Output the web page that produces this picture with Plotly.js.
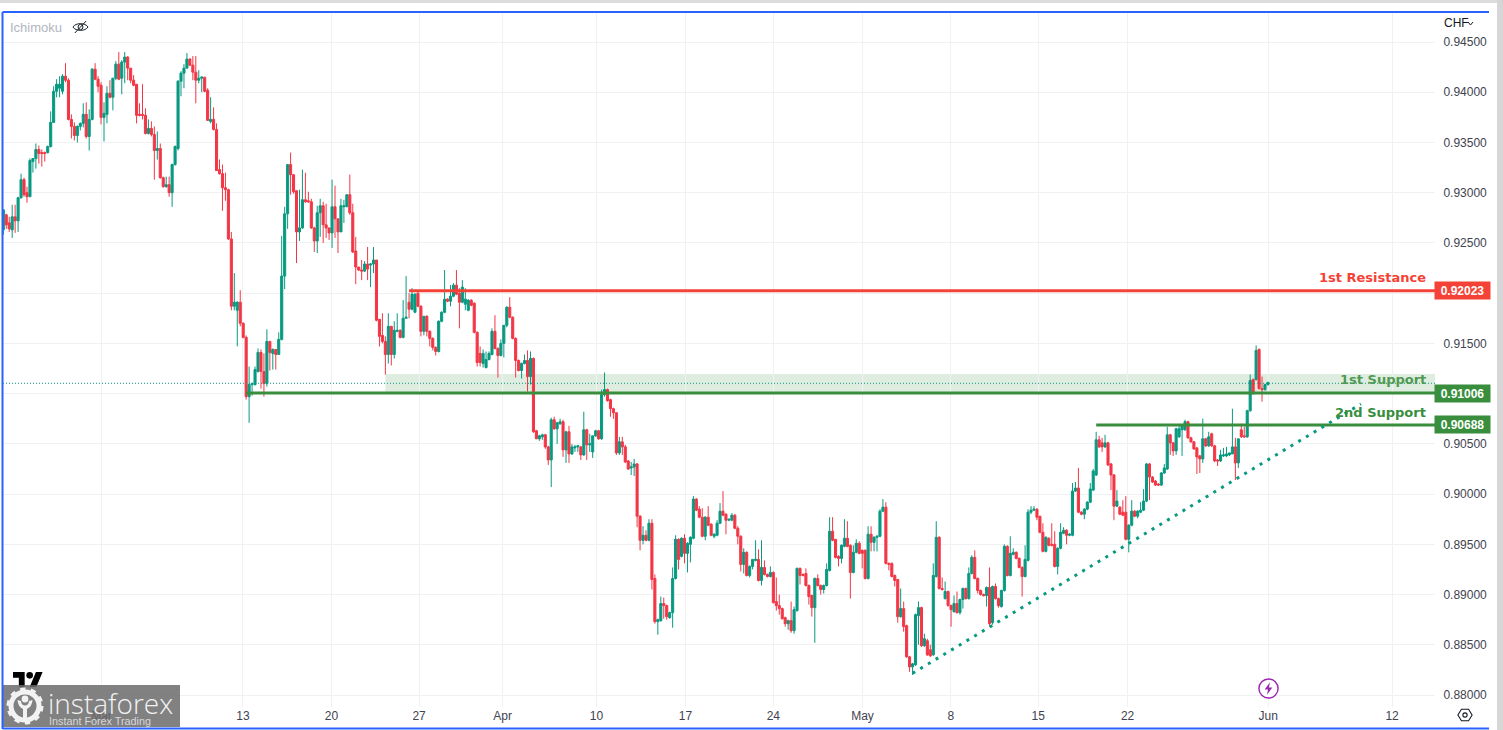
<!DOCTYPE html>
<html><head><meta charset="utf-8">
<script src="https://cdn.plot.ly/plotly-3.0.1.min.js"></script>
<style>html,body{margin:0;padding:0;background:#fff;overflow:hidden}#chart{width:1503px;height:730px}</style>
</head><body><div id="chart"></div>
<script>
// USD/CHF 4-hour candles, prices in units of 0.0001 CHF.
const opens=[
9263,9278,9270,9263,9276,9272,9295,9313,9300,9296,
9331,9334,9343,9340,9340,9340,9346,9370,9401,9404,
9401,9416,9412,9373,9366,9357,9366,9369,9378,9356,
9373,9423,9413,9407,9375,9378,9399,9395,9414,9428,
9414,9430,9435,9424,9412,9408,9378,9378,9377,9359,
9364,9358,9342,9344,9315,9306,9308,9300,9328,9344,
9411,9419,9424,9433,9427,9420,9412,9414,9415,9402,
9371,9373,9363,9323,9319,9305,9303,9254,9187,9183,
9191,9170,9156,9097,9109,9109,9122,9141,9122,9110,
9152,9140,9144,9139,9154,9217,9279,9328,9318,9302,
9261,9265,9293,9292,9291,9265,9252,9280,9287,9268,
9265,9260,9286,9274,9261,9286,9286,9298,9280,9242,
9226,9223,9222,9229,9228,9229,9233,9174,9158,9152,
9139,9167,9139,9162,9163,9156,9175,9191,9184,9181,
9200,9187,9162,9177,9162,9155,9146,9142,9172,9181,
9194,9192,9197,9208,9200,9191,9189,9183,9193,9190,
9161,9140,9130,9126,9134,9139,9162,9145,9138,9150,
9168,9186,9176,9155,9133,9123,9130,9133,9117,9135,
9063,9055,9057,9059,9047,9034,9074,9065,9070,9072,
9044,9062,9040,9046,9047,9047,9039,9064,9049,9042,
9058,9063,9055,9099,9104,9094,9085,9081,9041,9052,
9047,9033,9026,9027,9030,8978,8954,8959,8954,8971,
8916,8873,8874,8891,8889,8877,8882,8916,8955,8938,
8956,8941,8950,8956,8995,8985,8977,8958,8977,8970,
8958,8959,8971,8983,8980,8974,8974,8979,8966,8958,
8930,8942,8919,8928,8934,8935,8914,8927,8920,8918,
8922,8893,8889,8886,8877,8871,8874,8864,8884,8926,
8920,8921,8909,8899,8887,8916,8909,8905,8909,8924,
8963,8955,8938,8936,8948,8956,8949,8922,8942,8951,
8944,8944,8916,8960,8952,8957,8958,8983,8987,8931,
8931,8919,8915,8878,8886,8869,8838,8828,8830,8879,
8887,8849,8854,8845,8840,8918,8957,8906,8896,8903,
8889,8883,8891,8882,8895,8906,8896,8921,8937,8916,
8904,8900,8899,8907,8872,8908,8896,8888,8904,8948,
8919,8940,8942,8936,8927,8918,8934,8982,8984,8985,
8978,8962,8943,8956,8950,8950,8928,8946,8961,8964,
8959,8959,9003,9006,8982,8980,8985,8992,9004,9019,
9054,9051,9047,9051,9030,9019,8988,8987,8982,8982,
8955,8969,8983,8978,8982,8984,8993,9030,9017,9013,
9010,9009,9021,9025,9059,9051,9043,9057,9064,9064,
9072,9056,9052,9046,9038,9035,9055,9048,9060,9048,
9034,9033,9038,9038,9039,9040,9047,9031,9064,9058,
9057,9083,9114,9114,9144,9105,9104,9109];
const highs=[
9283,9279,9276,9288,9288,9296,9319,9315,9306,9334,
9334,9349,9347,9343,9341,9347,9381,9406,9413,9416,
9418,9429,9414,9378,9370,9367,9370,9389,9390,9383,
9424,9429,9416,9410,9390,9406,9412,9414,9431,9440,
9432,9440,9436,9424,9417,9408,9389,9408,9384,9373,
9371,9366,9361,9349,9316,9316,9316,9329,9347,9412,
9421,9428,9439,9434,9436,9436,9422,9416,9415,9404,
9395,9385,9369,9333,9328,9320,9304,9261,9220,9192,
9203,9171,9158,9127,9111,9127,9145,9144,9140,9164,
9152,9145,9144,9161,9257,9286,9328,9340,9318,9302,
9303,9323,9320,9301,9294,9266,9287,9294,9291,9289,
9265,9313,9307,9274,9294,9293,9298,9318,9289,9256,
9226,9233,9232,9246,9230,9246,9233,9174,9180,9157,
9180,9167,9172,9180,9164,9193,9217,9200,9205,9200,
9201,9188,9177,9178,9163,9156,9147,9173,9182,9223,
9195,9208,9210,9223,9205,9213,9205,9194,9194,9191,
9162,9147,9144,9142,9142,9165,9178,9146,9154,9168,
9187,9196,9177,9156,9134,9131,9139,9143,9142,9136,
9064,9059,9060,9060,9048,9076,9077,9072,9075,9074,
9063,9068,9050,9049,9049,9048,9082,9065,9060,9058,
9064,9064,9104,9121,9105,9095,9086,9081,9057,9057,
9049,9034,9032,9035,9031,8979,8968,8964,8975,8975,
8920,8876,8898,8897,8890,8883,8927,8959,8956,8957,
8960,8952,8958,8998,8996,8988,8986,8978,8988,8971,
8961,8974,8991,9003,8981,8975,8981,8980,8968,8959,
8946,8943,8929,8935,8954,8945,8954,8934,8921,8928,
8923,8917,8900,8887,8878,8875,8893,8888,8927,8927,
8921,8926,8910,8900,8917,8920,8910,8910,8931,8977,
8977,8955,8939,8950,8975,8973,8950,8949,8955,8953,
8945,8945,8968,8968,8958,8959,8985,8995,8992,8932,
8932,8920,8915,8906,8893,8870,8839,8832,8881,8893,
8888,8861,8856,8850,8931,8973,8958,8917,8913,8904,
8890,8899,8903,8896,8907,8907,8927,8939,8944,8917,
8905,8901,8908,8927,8909,8911,8897,8905,8950,8949,
8958,8946,8943,8937,8928,8949,8985,8988,8988,8986,
8978,8971,8958,8957,8971,8963,8947,8971,8967,8965,
8961,9011,9012,9026,8983,8986,8993,9011,9025,9062,
9058,9056,9059,9052,9031,9020,9004,8988,8994,8998,
8970,8994,8984,8984,8992,9005,9031,9031,9018,9014,
9011,9022,9030,9067,9060,9052,9066,9069,9070,9074,
9073,9057,9053,9047,9039,9075,9056,9062,9061,9049,
9035,9044,9046,9047,9041,9085,9056,9055,9070,9067,
9084,9119,9115,9148,9145,9117,9110,9112];
const lows=[
9258,9264,9261,9255,9260,9261,9294,9296,9290,9296,
9320,9324,9329,9326,9331,9339,9345,9370,9395,9395,
9398,9410,9372,9354,9352,9350,9362,9365,9354,9342,
9372,9412,9400,9368,9351,9369,9394,9382,9412,9412,
9398,9409,9412,9409,9406,9369,9376,9373,9358,9358,
9356,9313,9333,9314,9305,9305,9296,9286,9327,9342,
9396,9404,9424,9426,9412,9389,9409,9400,9400,9372,
9369,9362,9322,9318,9282,9292,9253,9183,9183,9147,
9167,9155,9094,9071,9098,9108,9121,9105,9097,9107,
9123,9124,9124,9139,9153,9204,9264,9298,9299,9230,
9252,9264,9290,9290,9264,9241,9240,9256,9250,9255,
9253,9245,9255,9240,9261,9270,9286,9278,9240,9209,
9222,9213,9221,9213,9206,9220,9172,9147,9150,9119,
9130,9128,9135,9161,9155,9155,9175,9175,9183,9180,
9186,9157,9158,9157,9147,9143,9138,9141,9171,9180,
9191,9187,9196,9198,9165,9190,9183,9182,9187,9160,
9127,9127,9126,9125,9133,9138,9144,9116,9137,9136,
9166,9175,9154,9116,9122,9115,9129,9102,9109,9061,
9055,9053,9054,9045,9029,9007,9064,9050,9069,9037,
9031,9031,9039,9042,9042,9034,9038,9034,9042,9036,
9057,9054,9054,9097,9092,9077,9075,9039,9039,9039,
9031,9024,9019,9018,8967,8944,8950,8953,8953,8905,
8871,8860,8873,8876,8875,8876,8867,8915,8925,8937,
8931,8922,8932,8955,8983,8976,8957,8954,8968,8958,
8956,8958,8970,8978,8960,8973,8973,8965,8950,8923,
8921,8918,8917,8925,8933,8913,8909,8919,8917,8917,
8891,8884,8880,8875,8868,8865,8862,8861,8883,8910,
8918,8908,8890,8878,8852,8908,8900,8901,8908,8923,
8953,8936,8928,8931,8947,8947,8896,8921,8941,8940,
8926,8915,8915,8943,8943,8943,8957,8982,8930,8924,
8917,8908,8872,8877,8863,8837,8823,8820,8829,8850,
8848,8848,8839,8838,8839,8917,8905,8904,8895,8888,
8868,8882,8881,8880,8886,8895,8895,8920,8915,8901,
8899,8898,8888,8868,8870,8895,8887,8887,8903,8918,
8918,8939,8935,8926,8898,8917,8933,8980,8983,8974,
8961,8942,8942,8948,8948,8927,8920,8945,8960,8950,
8958,8958,9002,8981,8979,8975,8984,8991,9003,9018,
9046,9042,9046,9028,9004,8974,8987,8979,8978,8954,
8942,8968,8977,8976,8981,8983,8992,8994,9011,9008,
9008,9008,9020,9024,9039,9038,9039,9056,9038,9063,
9055,9051,9044,9020,9021,9031,9047,9047,9047,9032,
9028,9032,9037,9037,9038,9040,9014,9026,9056,9056,
9056,9082,9099,9113,9104,9092,9103,9108];
const closes=[
9283,9268,9264,9276,9272,9295,9313,9298,9296,9332,
9334,9343,9339,9339,9339,9346,9370,9401,9408,9408,
9416,9412,9373,9366,9357,9366,9369,9378,9356,9373,
9423,9413,9406,9375,9379,9399,9395,9414,9428,9413,
9430,9435,9424,9412,9407,9377,9377,9377,9359,9364,
9358,9342,9344,9315,9306,9308,9300,9328,9346,9411,
9419,9424,9433,9427,9420,9412,9414,9415,9401,9372,
9373,9363,9322,9319,9305,9303,9254,9187,9191,9191,
9170,9156,9097,9109,9110,9124,9141,9122,9110,9152,
9141,9144,9139,9154,9217,9279,9328,9318,9301,9261,
9265,9293,9291,9291,9265,9252,9280,9287,9268,9265,
9260,9286,9274,9261,9287,9287,9298,9280,9241,9226,
9223,9222,9229,9224,9229,9233,9173,9157,9152,9139,
9167,9139,9163,9163,9156,9175,9176,9184,9199,9199,
9187,9162,9177,9162,9155,9146,9142,9172,9181,9194,
9192,9197,9208,9199,9191,9206,9194,9193,9188,9161,
9131,9131,9140,9134,9140,9162,9145,9138,9150,9168,
9186,9176,9155,9133,9123,9130,9133,9117,9135,9062,
9055,9058,9059,9047,9034,9074,9065,9071,9072,9044,
9062,9040,9047,9047,9048,9039,9064,9049,9050,9058,
9063,9055,9099,9104,9093,9085,9081,9041,9052,9047,
9032,9025,9027,9030,8978,8954,8959,8954,8971,8915,
8873,8875,8891,8889,8878,8882,8916,8955,8935,8956,
8941,8951,8957,8995,8984,8977,8958,8977,8969,8959,
8960,8971,8983,8979,8974,8975,8979,8966,8958,8930,
8942,8919,8928,8935,8935,8914,8927,8920,8918,8922,
8892,8889,8886,8876,8871,8874,8864,8885,8926,8919,
8919,8909,8898,8887,8916,8909,8905,8909,8925,8963,
8954,8937,8936,8949,8956,8948,8922,8942,8951,8941,
8941,8916,8960,8952,8957,8958,8983,8987,8931,8930,
8918,8914,8878,8886,8868,8838,8828,8831,8880,8887,
8849,8856,8840,8839,8919,8957,8906,8905,8903,8889,
8885,8891,8882,8895,8906,8896,8921,8937,8916,8904,
8900,8899,8907,8871,8908,8896,8889,8904,8948,8919,
8941,8942,8936,8927,8918,8935,8982,8984,8985,8977,
8962,8943,8957,8949,8949,8928,8946,8962,8964,8959,
8960,9003,9006,8982,8980,8985,8992,9005,9023,9054,
9047,9047,9051,9029,9019,8988,8993,8980,8979,8955,
8969,8983,8978,8983,8984,8993,9030,9017,9012,9009,
9009,9021,9026,9059,9051,9043,9065,9065,9069,9072,
9056,9052,9045,9037,9035,9055,9048,9057,9048,9033,
9033,9039,9039,9040,9041,9047,9031,9055,9057,9057,
9083,9113,9100,9143,9105,9104,9109,9111];

const timeTickLabels=['Mar','13','20','27','Apr','10','17','24','May','8','15','22','Jun','12'];
const timeTickIndex=[33.15,80.9,110.8,140.4,168.6,200.3,230.3,260,290.1,319.9,349.4,379.6,427.1,468.9];
const priceTicks=[0.88,0.885,0.89,0.895,0.90,0.905,0.91,0.915,0.92,0.925,0.93,0.935,0.94,0.945];

const resistance1=0.92023, support1=0.91006, support2=0.90688;
const zoneTop=0.91195, lastPrice=0.91103;
const res1Start=137, sup1Start=82, sup2Start=369, zoneStart=129;
const trendStart=[307,0.88216], trendEnd=[458.4,0.90897];

const GREEN='#089981', RED='#F23645', LEVEL_GREEN='#388E3C', LEVEL_RED='#F44336', BLUE='#2962FF';
const xRange=[-0.1,483.4], yRange=[0.878806,0.94789];
const PL=3,PW=1432,PT=13,PH=694;
const px=x=>(x-PL)/PW, py=y=>1-(y-PT)/PH;
const idx=opens.map((_,i)=>i), sc=a=>a.map(v=>v/1e4);

const pRect=(x0,y0,x1,y1,fill)=>({type:'rect',xref:'paper',yref:'paper',x0:px(x0),x1:px(x1),y0:py(y0),y1:py(y1),fillcolor:fill,line:{width:0},layer:'above'});
const pLine=(x0,y0,x1,y1,color,w)=>({type:'line',xref:'paper',yref:'paper',x0:px(x0),x1:px(x1),y0:py(y0),y1:py(y1),line:{color:color,width:w},layer:'above'});
const hLine=(x0,y,color)=>({type:'line',xref:'x',yref:'y',x0:x0,x1:xRange[1],y0:y,y1:y,line:{color:color,width:3},layer:'above'});

const shapes=[
 {type:'rect',xref:'x',yref:'y',x0:zoneStart,x1:xRange[1],y0:support1,y1:zoneTop,fillcolor:'rgba(56,142,60,0.16)',line:{width:0},layer:'below'},
 {type:'line',xref:'x',yref:'y',x0:xRange[0],x1:xRange[1],y0:lastPrice,y1:lastPrice,line:{color:GREEN,width:1,dash:'1px,2px'},layer:'above'},
 hLine(res1Start,resistance1,LEVEL_RED),
 hLine(sup1Start,support1,LEVEL_GREEN),
 hLine(sup2Start,support2,LEVEL_GREEN),
 {type:'line',xref:'x',yref:'y',x0:trendStart[0],y0:trendStart[1],x1:trendEnd[0],y1:trendEnd[1],line:{color:GREEN,width:3,dash:'3px,6px'},layer:'above'},
 pRect(0,0,1503,3,'#dcdcdc'),
 pRect(1497,0,1503,730,'#d6d6d6'),
 pLine(2.5,12,1489,12,BLUE,2),
 pLine(2.5,12,2.5,729,BLUE,2),
 pLine(2.5,728.5,1489,728.5,BLUE,2),
 pLine(1468,22,1470.5,25,'#131722',1),
 pLine(1470.5,25,1473,22,'#131722',1)
];

const note=(text,x,y,size,color,extra)=>Object.assign({text:text,xref:'paper',yref:'paper',x:px(x),y:py(y),showarrow:false,xanchor:'left',yanchor:'middle',
  font:{family:'"DejaVu Sans",sans-serif',size:size,color:color}},extra||{});
const tag=(text,price,color)=>({text:'<b>'+text+'</b>',xref:'paper',yref:'y',x:1,y:price,xshift:-1,showarrow:false,xanchor:'left',yanchor:'middle',
  width:55,height:17,bgcolor:color,borderpad:0,align:'center',font:{family:'"Liberation Sans",sans-serif',size:12,color:'#fff'}});

const annotations=[
 note('<b>1st Resistance</b>',1428,278,13,LEVEL_RED,{xanchor:'right'}),
 note('<b>1st Support</b>',1428,380,13,'#4f9a53',{xanchor:'right'}),
 note('<b>2nd Support</b>',1428,412,13,LEVEL_GREEN,{xanchor:'right'}),
 tag(resistance1.toFixed(5),resistance1,LEVEL_RED),
 tag(support1.toFixed(5),support1,LEVEL_GREEN),
 tag(support2.toFixed(5),support2,LEVEL_GREEN),
 note('Ichimoku',8,27,13,'#b2b5be',{font:{family:'"Liberation Sans",sans-serif',size:13,color:'#b2b5be'}}),
 note('CHF',1442,23,12,'#131722',{font:{family:'"Liberation Sans",sans-serif',size:12,color:'#131722'}}),
 note('instaforex',46,703,28,'#f2f2f2',{font:{family:'"Open Sans",sans-serif',size:28,color:'#f2f2f2',weight:300}}),
 note('Instant Forex Trading',47,721,10.8,'#d8d8d8',{font:{family:'"Liberation Sans",sans-serif',size:10.8,color:'#d8d8d8'}})
];

const svg=(w,h,body)=>'data:image/svg+xml;utf8,'+encodeURIComponent('<svg xmlns="http://www.w3.org/2000/svg" width="'+w+'" height="'+h+'" viewBox="0 0 '+w+' '+h+'">'+body+'</svg>');
const img=(src,x,y,w,h)=>({source:src,xref:'paper',yref:'paper',x:px(x),y:py(y),sizex:w/PW,sizey:h/PH,xanchor:'left',yanchor:'top',sizing:'stretch',layer:'above'});
const gear='<g transform="translate(5,3)"><circle cx="18" cy="18" r="14" fill="none" stroke="#f2f2f2" stroke-width="5"/><circle cx="18" cy="18" r="16" fill="none" stroke="#f2f2f2" stroke-width="5" stroke-dasharray="5 5.05"/><circle cx="18" cy="11" r="3.4" fill="#f2f2f2"/><path d="M10.5 12C11 18 14 20 16 21V32H20V21C22 20 25 18 25.5 12L22 13C22 16 20 17.5 18 17.5C16 17.5 14 16 14 13Z" fill="#f2f2f2"/></g>';
const images=[
 img(svg(18,14,'<path d="M1 7C4 2.5 14 2.5 17 7C14 11.5 4 11.5 1 7Z" fill="none" stroke="#131722" stroke-width="1"/><circle cx="9" cy="7" r="2.6" fill="none" stroke="#131722"/><path d="M3 13L15 1" stroke="#131722" stroke-width="1"/>'),72,20,17,14),
 img(svg(36,18,'<path d="M14 18H7V7H0V0h14z M28 18h-8L27.5 0h8z" fill="#000"/><circle cx="20" cy="4" r="4" fill="#000"/>'),13,672,30,15),
 img(svg(178,42,'<rect width="178" height="42" fill="rgb(105,105,105)" fill-opacity="0.84"/>'+gear),2,685,178,42),
 img(svg(24,24,'<circle cx="12" cy="12" r="10" fill="#fff" stroke="#9C27B0" stroke-width="1.5"/><path d="M13.5 5.5L8 13H11.5L10.5 18.5L16 11H12.5Z" fill="#9C27B0"/>'),1257,677,23,23),
 img(svg(18,18,'<path d="M5 2.5H13L17 9L13 15.5H5L1 9Z" fill="none" stroke="#131722" stroke-width="1.2"/><circle cx="9" cy="9" r="2.4" fill="none" stroke="#131722" stroke-width="1.2"/>'),1457,707,16,16)
];

const trace={type:'candlestick',x:idx,open:sc(opens),high:sc(highs),low:sc(lows),close:sc(closes),
 increasing:{line:{color:GREEN,width:1},fillcolor:GREEN},decreasing:{line:{color:RED,width:1},fillcolor:RED},
 whiskerwidth:0,hoverinfo:'skip',showlegend:false};

const axisFont={family:'"Liberation Sans",sans-serif',size:12,color:'#3f434f'};
const layout={width:1503,height:730,margin:{l:PL,r:1503-PL-PW,t:PT,b:730-PT-PH,pad:0},
 paper_bgcolor:'#fff',plot_bgcolor:'#fff',showlegend:false,boxgap:0,
 xaxis:{type:'linear',range:xRange,rangeslider:{visible:false},tickmode:'array',tickvals:timeTickIndex,ticktext:timeTickLabels,
  showgrid:true,gridcolor:'#f0f1f3',gridwidth:1,zeroline:false,showline:false,ticks:'',tickfont:axisFont,tickangle:0},
 yaxis:{side:'right',type:'linear',range:yRange,tickmode:'array',tickvals:priceTicks,ticktext:priceTicks.map(v=>v.toFixed(5)),
  showgrid:true,gridcolor:'#f0f1f3',gridwidth:1,zeroline:false,showline:false,ticks:'outside',ticklen:5,tickcolor:'rgba(0,0,0,0)',tickfont:axisFont},
 shapes:shapes,annotations:annotations,images:images,hovermode:false,dragmode:false};
Plotly.newPlot('chart',[trace],layout,{displayModeBar:false,staticPlot:true,responsive:false});
</script></body></html>
